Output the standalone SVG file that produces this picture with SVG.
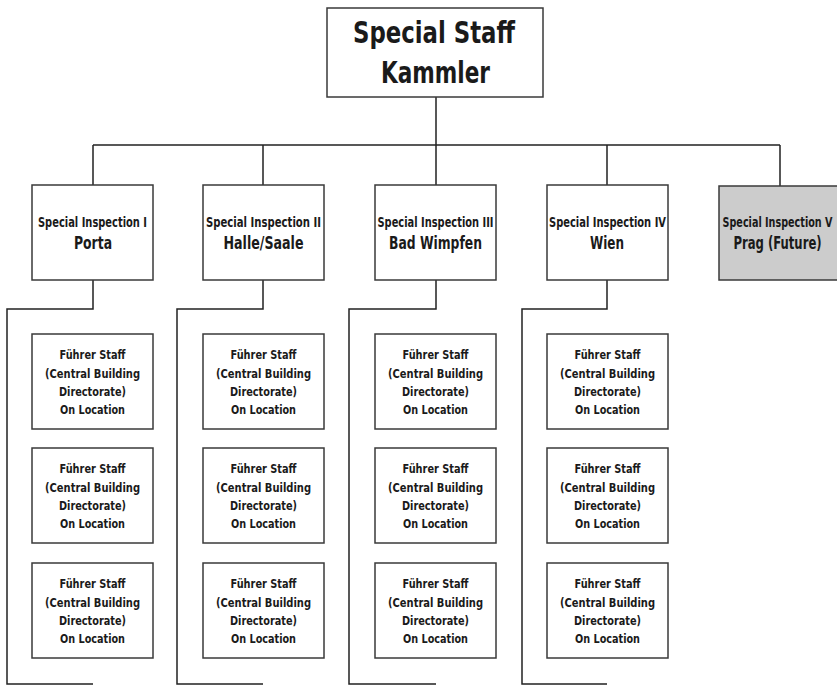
<svg xmlns="http://www.w3.org/2000/svg" width="837" height="685" viewBox="0 0 837 685">
<style>
.box{fill:#ffffff;stroke:#3a3a3a;stroke-width:1.5}
.fut{fill:#cccccc;stroke:#3a3a3a;stroke-width:1.5}
.ln{fill:none;stroke:#222222;stroke-width:1.5}
text{font-family:"Liberation Sans Narrow","DejaVu Sans Condensed","Liberation Sans",sans-serif;font-weight:bold;fill:#1a1a1a;text-anchor:middle}
.t1{font-size:30px}
.t2{font-size:13.5px}
.t3{font-size:17.5px}
.t4{font-size:13px}
</style>
<rect width="837" height="685" fill="#ffffff"/>
<g id="connectors">
<path class="ln" d="M436,97 V145 M93,145 H780 M93,145 V185 M263,145 V185 M436,145 V185 M607,145 V185 M780,145 V186"/>
<path class="ln" d="M93,280 V309 H7 V684 H93"/>
<path class="ln" d="M263,280 V309 H177 V684 H263"/>
<path class="ln" d="M436,280 V309 H349 V684 H436"/>
<path class="ln" d="M607,280 V309 H522 V684 H607"/>
</g>
<g id="root">
<rect class="box" x="327" y="8" width="216" height="89"/>
<text class="t1" x="434" y="43" textLength="162" lengthAdjust="spacingAndGlyphs">Special Staff</text>
<text class="t1" x="435.5" y="83" textLength="109" lengthAdjust="spacingAndGlyphs">Kammler</text>
</g>
<g id="insp1">
<rect class="box" x="32" y="185" width="121" height="95"/>
<text class="t2" x="92.5" y="227" textLength="109" lengthAdjust="spacingAndGlyphs">Special Inspection I</text>
<text class="t3" x="93" y="249" textLength="38" lengthAdjust="spacingAndGlyphs">Porta</text>
</g>
<g id="insp2">
<rect class="box" x="203" y="185" width="121" height="95"/>
<text class="t2" x="263.5" y="227" textLength="115" lengthAdjust="spacingAndGlyphs">Special Inspection II</text>
<text class="t3" x="263.5" y="249" textLength="80" lengthAdjust="spacingAndGlyphs">Halle/Saale</text>
</g>
<g id="insp3">
<rect class="box" x="375" y="185" width="121" height="95"/>
<text class="t2" x="435.5" y="227" textLength="116" lengthAdjust="spacingAndGlyphs">Special Inspection III</text>
<text class="t3" x="435.5" y="249" textLength="93" lengthAdjust="spacingAndGlyphs">Bad Wimpfen</text>
</g>
<g id="insp4">
<rect class="box" x="547" y="185" width="121" height="95"/>
<text class="t2" x="607.5" y="227" textLength="117" lengthAdjust="spacingAndGlyphs">Special Inspection IV</text>
<text class="t3" x="607" y="249" textLength="34" lengthAdjust="spacingAndGlyphs">Wien</text>
</g>
<g id="insp5">
<rect class="fut" x="719" y="186" width="119" height="94"/>
<g transform="translate(777.5,0) scale(0.7,1)">
<text class="t2" x="0" y="227" textLength="157" lengthAdjust="spacingAndGlyphs">Special Inspection V</text>
<text class="t3" x="0" y="249" textLength="126" lengthAdjust="spacingAndGlyphs">Prag (Future)</text>
</g>
</g>
<defs>
<g id="leaf">
<rect class="box" x="0" y="0" width="121" height="95"/>
<text class="t4" x="60.5" y="25" textLength="66" lengthAdjust="spacingAndGlyphs">Führer Staff</text>
<text class="t4" x="60.5" y="43.5" textLength="95" lengthAdjust="spacingAndGlyphs">(Central Building</text>
<text class="t4" x="60.5" y="62" textLength="67" lengthAdjust="spacingAndGlyphs">Directorate)</text>
<text class="t4" x="60.5" y="80" textLength="65" lengthAdjust="spacingAndGlyphs">On Location</text>
</g>
</defs>
<g id="leaf1a"><use href="#leaf" x="32" y="334"/></g>
<g id="leaf1b"><use href="#leaf" x="32" y="448"/></g>
<g id="leaf1c"><use href="#leaf" x="32" y="563"/></g>
<g id="leaf2a"><use href="#leaf" x="203" y="334"/></g>
<g id="leaf2b"><use href="#leaf" x="203" y="448"/></g>
<g id="leaf2c"><use href="#leaf" x="203" y="563"/></g>
<g id="leaf3a"><use href="#leaf" x="375" y="334"/></g>
<g id="leaf3b"><use href="#leaf" x="375" y="448"/></g>
<g id="leaf3c"><use href="#leaf" x="375" y="563"/></g>
<g id="leaf4a"><use href="#leaf" x="547" y="334"/></g>
<g id="leaf4b"><use href="#leaf" x="547" y="448"/></g>
<g id="leaf4c"><use href="#leaf" x="547" y="563"/></g>
</svg>
